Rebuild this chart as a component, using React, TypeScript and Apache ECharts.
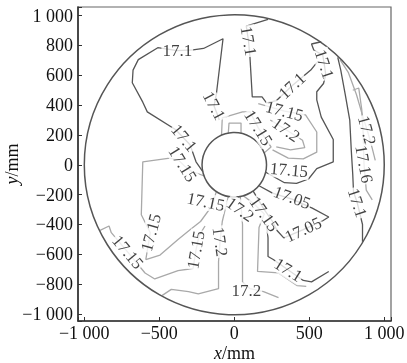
import React, { useEffect, useRef } from "react";
import * as echarts from "echarts";

// axis extents (mm)
const xExtent = [-1042, 1045];
const yExtent = [-1047, 1058];
// annulus boundary radii (mm): outer wall, inner hole
const boundaryRadii = [1000, 215];

// ---- contour lines (x, y in mm) ----
// dark lines: 17.1 / 17.05 levels
const c171West = [[-210, -45], [-255, 20], [-295, 135], [-390, 235], [-580, 355], [-610, 420], [-680, 550], [-675, 635], [-640, 705], [-510, 785], [-380, 765], [-275, 770], [-205, 780], [-75, 845], [-120, 470], [-135, 395], [-110, 330], [-100, 300]];
const c171North = [[225, 975], [80, 930], [95, 830], [105, 715], [120, 455], [185, 455], [215, 415], [280, 430], [385, 530], [510, 635], [550, 685]];
const c171NorthEast = [[580, 825], [515, 810], [530, 770], [590, 735], [600, 675], [610, 605], [595, 545], [550, 490], [550, 435], [580, 320], [660, 170], [660, 20], [550, -25], [495, -95], [415, -125], [335, -120], [210, -50]];
const c171East = [[690, 720], [710, 635], [740, 470], [770, 300], [780, 100], [790, -65], [795, -180], [820, -255], [855, -400], [855, -515]];
const c1705Loop = [[165, -140], [255, -190], [385, -230], [520, -290], [630, -350], [590, -375], [460, -435], [330, -490], [285, -440], [255, -380], [200, -300], [125, -175]];
const c171SouthEast = [[215, -400], [225, -490], [225, -615], [260, -635], [360, -705], [460, -775], [515, -785], [630, -715]];

// light lines: 17.15 / 17.16 / 17.2 levels
const c1715TopInner = [[-40, 212], [-35, 280], [45, 280], [45, 212]];
const c1715Top = [[-85, 198], [-80, 315], [55, 355], [105, 355], [160, 248], [245, 120], [200, 80]];
const c1715NorthEast = [[160, 410], [335, 360], [475, 335], [550, 220], [550, 85], [460, 40], [360, 45], [255, 100]];
const c172NorthEast = [[240, 300], [345, 235], [455, 165], [470, 115], [375, 100], [280, 120]];
const c172East = [[705, 705], [760, 620], [815, 470], [860, 315], [890, 220], [920, 110], [940, 30]];
const c1716East = [[790, 500], [830, 515], [850, 370], [860, 200], [865, 5], [880, -170], [920, -235]];
const c1715SouthEast = [[60, -208], [130, -260], [200, -330], [165, -420], [155, -715], [295, -725], [420, -810], [480, -815]];
const c172South = [[40, -215], [55, -400], [55, -785], [105, -830], [195, -850], [295, -890]];
const c172SouthWest = [[-480, -875], [-420, -835], [-305, -850], [-240, -865], [-105, -830], [-105, -650], [-95, -515], [-80, -380], [-40, -212]];
const c1715SouthWest = [[-195, -410], [-235, -475], [-255, -570], [-275, -695], [-375, -710], [-530, -765], [-595, -725], [-710, -585], [-820, -455], [-835, -410], [-895, -440]];
const c1715West = [[-200, -75], [-290, -40], [-330, -10], [-370, 30], [-430, 45], [-610, 20], [-620, -335], [-560, -455], [-590, -635], [-495, -605], [-375, -500], [-295, -435], [-225, -380], [-145, -270], [-120, -180]];

const darkLines = [c171West, c171North, c171NorthEast, c171East, c1705Loop, c171SouthEast];
const lightLines = [c1715TopInner, c1715Top, c1715NorthEast, c172NorthEast, c172East, c1716East, c1715SouthEast, c172South, c172SouthWest, c1715SouthWest, c1715West];

// contour labels: x, y (mm), text
const contourLabels: [number, number, string][] = [
  [-380, 765, "17.1"],
  [-135, 395, "17.1"],
  [95, 830, "17.1"],
  [385, 530, "17.1"],
  [600, 675, "17.1"],
  [335, 360, "17.15"],
  [345, 235, "17.2"],
  [160, 248, "17.15"],
  [885, 230, "17.2"],
  [865, 5, "17.16"],
  [820, -255, "17.1"],
  [365, -35, "17.15"],
  [385, -220, "17.05"],
  [460, -435, "17.05"],
  [360, -705, "17.1"],
  [80, -845, "17.2"],
  [-95, -515, "17.2"],
  [-255, -570, "17.15"],
  [-190, -248, "17.15"],
  [40, -300, "17.2"],
  [200, -330, "17.15"],
  [-710, -585, "17.15"],
  [-555, -455, "17.15"],
  [-335, 180, "17.1"],
  [-345, 5, "17.15"],
];
const labelAngles = [0, -62, -80, 43, -72, -15, -35, -58, -75, -80, -72, -5, -20, 25, -32, 0, -82, 80, -12, -35, -55, -50, 75, -50, -58];

const FONT = "'Liberation Serif', 'Times New Roman', serif";
const DARK = "#555";
const LIGHT = "#a9a9a9";

function fmtTick(v: number, step: number) {
  if (Math.abs(v % step) > 1e-6) return "";
  const a = Math.abs(v);
  const s = a >= 1000 ? Math.floor(a / 1000) + " " + String(a % 1000).padStart(3, "0") : String(a);
  return v < 0 ? "\u2212" + s : s;
}

export default function App() {
  const ref = useRef<HTMLDivElement>(null);
  useEffect(() => {
    const chart = echarts.init(ref.current!, undefined, { renderer: "svg" });
    const lineSeries = [
      ...darkLines.map((d) => ({ data: d, color: DARK })),
      ...lightLines.map((d) => ({ data: d, color: LIGHT })),
    ].map((l) => ({
      type: "line",
      data: l.data,
      showSymbol: false,
      symbol: "none",
      silent: true,
      z: 2,
      lineStyle: { color: l.color, width: 1.3 },
    }));
    const nameStyle = {
      color: "#111", fontFamily: FONT, fontSize: 18, lineHeight: 18,
      rich: { i: { fontStyle: "italic", fontFamily: FONT, fontSize: 18, lineHeight: 18, color: "#111" } },
    };
    chart.setOption({
      animation: false,
      grid: {
        left: 78, right: 16, top: 7, bottom: 42,
        containLabel: false, outerBoundsMode: "none",
        show: true, borderColor: "#666", borderWidth: 1.2,
      },
      xAxis: {
        type: "value",
        min: xExtent[0],
        max: xExtent[1],
        minInterval: 500,
        maxInterval: 500,
        splitLine: { show: false },
        axisLine: { onZero: false, lineStyle: { color: "#333", width: 1.6 } },
        axisTick: { inside: true, length: 4, lineStyle: { color: "#333" } },
        axisLabel: { formatter: (v: number) => fmtTick(v, 500), color: "#111", fontFamily: FONT, fontSize: 18, margin: 3 },
        name: "{i|x}/mm",
        nameLocation: "middle",
        nameMoveOverlap: false,
        nameGap: 23,
        nameTextStyle: nameStyle,
      },
      yAxis: {
        type: "value",
        min: yExtent[0],
        max: yExtent[1],
        minInterval: 200,
        maxInterval: 200,
        splitLine: { show: false },
        axisLine: { onZero: false, lineStyle: { color: "#333", width: 1.6 } },
        axisTick: { inside: true, length: 4, lineStyle: { color: "#333" } },
        axisLabel: { formatter: (v: number) => fmtTick(v, 200), color: "#111", fontFamily: FONT, fontSize: 18, margin: 5 },
        name: "{i|y}/mm",
        nameLocation: "middle",
        nameMoveOverlap: false,
        nameGap: 57,
        nameTextStyle: nameStyle,
      },
      series: [
        {
          type: "custom",
          silent: true,
          z: 3,
          data: boundaryRadii.map((r) => [r]),
          renderItem: (_p: any, api: any) => {
            const c = api.coord([0, 0]);
            const r = api.size([api.value(0), 0])[0];
            return { type: "circle", shape: { cx: c[0], cy: c[1], r }, style: { fill: "none", stroke: DARK, lineWidth: 1.5 } };
          },
        },
        ...lineSeries,
        {
          type: "scatter",
          silent: true,
          z: 5,
          symbolSize: 1,
          itemStyle: { color: "rgba(0,0,0,0)" },
          data: contourLabels.map((p, i) => ({ value: [p[0], p[1]], name: p[2], label: { rotate: labelAngles[i] } })),
          label: {
            show: true,
            position: "inside",
            formatter: "{b}",
            color: "#111",
            fontFamily: FONT,
            fontSize: 17,
            backgroundColor: "#fff",
            padding: [0, 1],
          },
        },
      ],
    });
    return () => chart.dispose();
  }, []);
  return <div ref={ref} style={{ position: "fixed", left: 0, top: 0, width: 407, height: 363 }} />;
}
